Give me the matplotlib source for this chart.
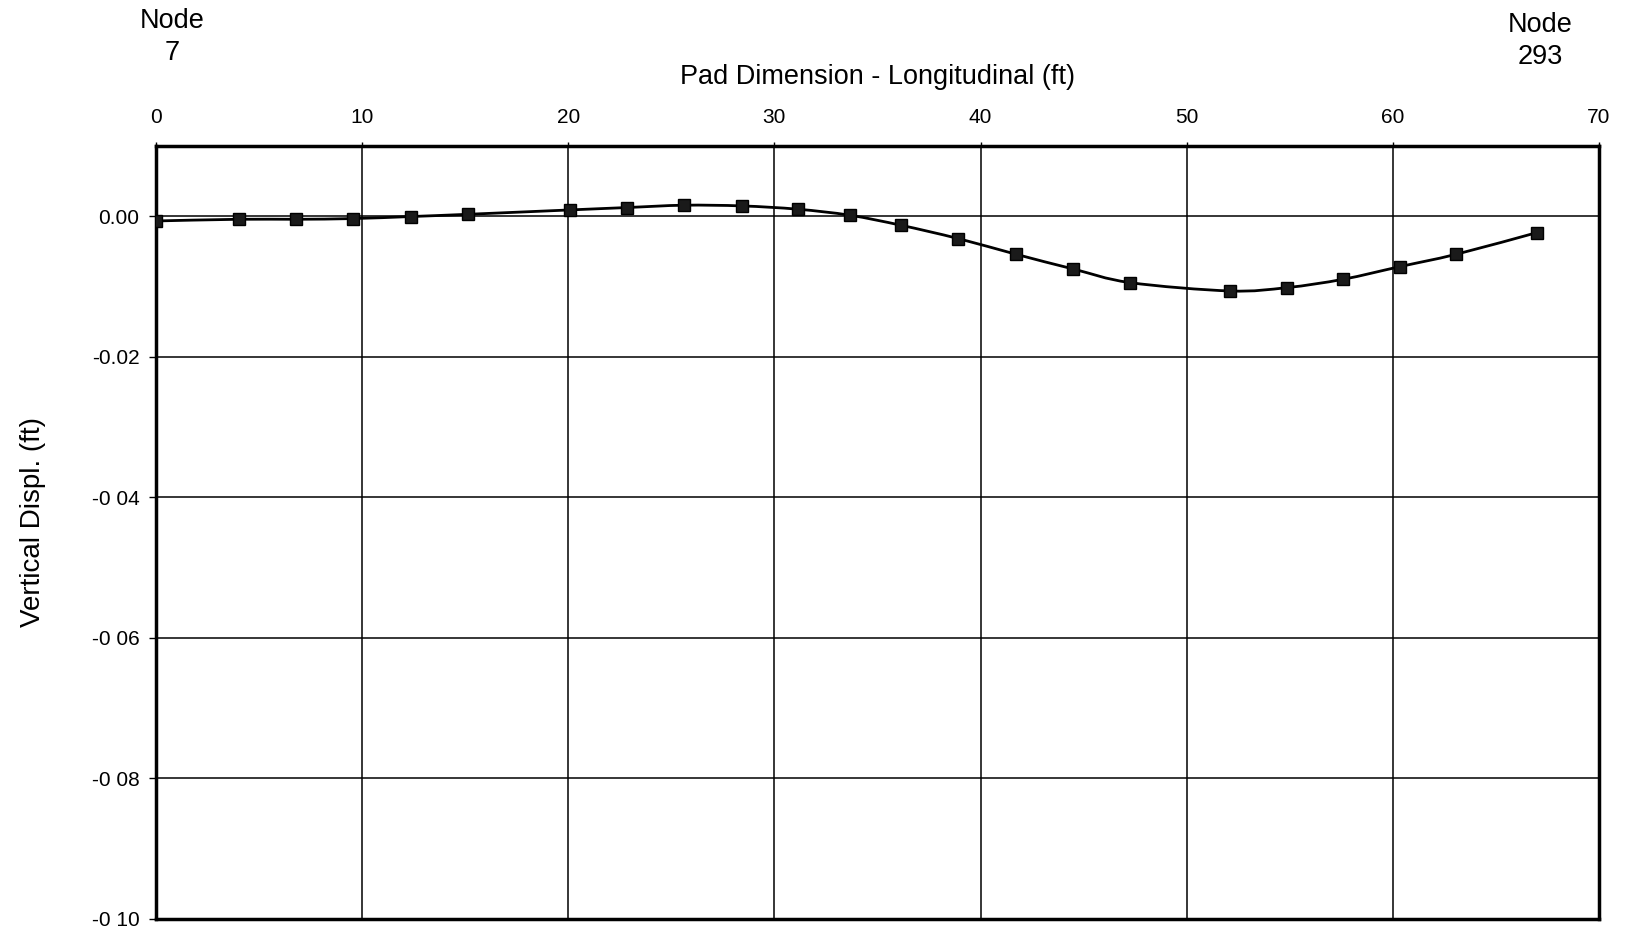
import matplotlib
matplotlib.use("Agg")
import matplotlib.pyplot as plt
import numpy as np
from matplotlib.path import Path
from matplotlib.patches import PathPatch

plt.rcParams['font.family'] = ['Liberation Sans', 'DejaVu Sans']

# Data
pad_x = [0.0, 4.03, 6.79, 9.56, 12.37, 15.14, 20.08, 22.85, 25.61, 28.43, 31.14,
         33.67, 36.14, 38.91, 41.72, 44.49, 47.25, 52.10, 54.87, 57.58, 60.35,
         63.07, 66.99]
disp_y = [-0.00067, -0.00043, -0.00043, -0.00033, -0.00004, 0.00028, 0.00090,
          0.00124, 0.00157, 0.00147, 0.00100, 0.00014, -0.00128, -0.00317,
          -0.00541, -0.00750, -0.00944, -0.01063, -0.01015, -0.00897, -0.00716,
          -0.00541, -0.00232]
x_ticks = [0, 10, 20, 30, 40, 50, 60, 70]
y_ticks = [0.00, -0.02, -0.04, -0.06, -0.08, -0.10]
y_tick_labels = ["0.00", "-0.02", "-0 04", "-0 06", "-0 08", "-0 10"]
x_label = "Pad Dimension - Longitudinal (ft)"
y_label = "Vertical Displ. (ft)"
node_left = "Node\n7"
node_right = "Node\n293"

fig = plt.figure(figsize=(16.33, 9.34), dpi=100)
ax = fig.add_axes([0.0955, 0.0161, 0.9792 - 0.0955, 0.8437 - 0.0161])

ax.set_xlim(0, 70)
ax.set_ylim(-0.10, 0.01)

# smoothed line (Excel-style Bezier through points)
px = np.array(pad_x)
py = np.array(disp_y)
n = len(px)
verts = [(px[0], py[0])]
codes = [Path.MOVETO]
for i in range(n - 1):
    p0 = np.array([px[max(i - 1, 0)], py[max(i - 1, 0)]])
    p1 = np.array([px[i], py[i]])
    p2 = np.array([px[i + 1], py[i + 1]])
    p3 = np.array([px[min(i + 2, n - 1)], py[min(i + 2, n - 1)]])
    c1 = p1 + (p2 - p0) / 6.0
    c2 = p2 - (p3 - p1) / 6.0
    verts += [tuple(c1), tuple(c2), tuple(p2)]
    codes += [Path.CURVE4, Path.CURVE4, Path.CURVE4]
patch = PathPatch(Path(verts, codes), facecolor='none', edgecolor='black',
                  lw=2.0, transform=ax.transData, zorder=3)
ax.add_patch(patch)
ax.plot(pad_x, disp_y, linestyle='none', marker='s', markersize=9,
        markerfacecolor='#1a1a1a', markeredgecolor='black', zorder=4)

ax.xaxis.tick_top()
ax.xaxis.set_label_position('top')
ax.set_xticks(x_ticks)
ax.set_yticks(y_ticks)
ax.set_yticklabels(y_tick_labels)
ax.tick_params(axis='x', which='both', direction='out', length=3, width=1,
               pad=11, labelsize=15, top=True, bottom=False)
ax.tick_params(axis='y', direction='out', length=5, width=1, pad=7, labelsize=15)
ax.grid(True, color='black', linewidth=1.1)
ax.set_axisbelow(True)
for s in ax.spines.values():
    s.set_linewidth(2.5)
    s.set_color('black')

ax.set_xlabel(x_label, fontsize=19.5, labelpad=17)
ax.set_ylabel(y_label, fontsize=20, labelpad=33)
ax.yaxis.label.set_y(0.514)

fig.text(172 / 1633, 1 - 37 / 934, node_left, ha='center', va='center',
         fontsize=19.5, linespacing=1.3)
fig.text(1540 / 1633, 1 - 41 / 934, node_right, ha='center', va='center',
         fontsize=19.5, linespacing=1.3)

fig.savefig("out.png", dpi=100)
